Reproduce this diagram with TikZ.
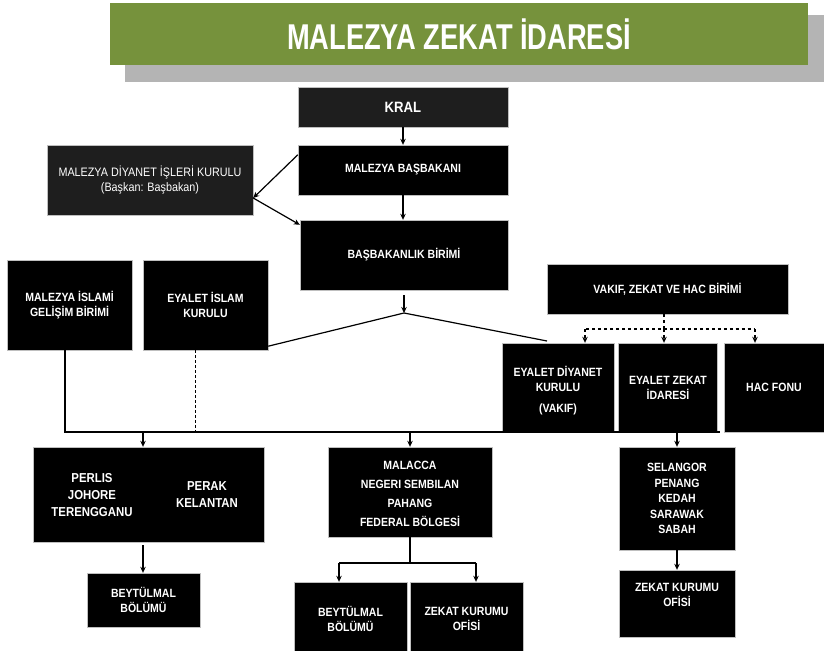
\documentclass[tikz,border=0pt]{standalone}
\usepackage{fontspec}
\setmainfont{Liberation Sans}[FakeStretch=0.88]
\newfontfamily\titlefont{Liberation Sans}[FakeStretch=0.76]
\usetikzlibrary{arrows.meta,calc}
\definecolor{titlegreen}{HTML}{76923C}
\definecolor{shadowgray}{HTML}{B4B4B4}
\definecolor{darkbox}{HTML}{1E1E1E}
\begin{document}
\begin{tikzpicture}[x=1bp,y=-1bp,
  box/.style={fill=black, text=white, font=\bfseries\fontsize{12}{15}\selectfont, align=center, inner sep=0pt, draw=gray!50, line width=0.4bp},
  sz/.style 2 args={minimum width=#1bp, minimum height=#2bp},
  arr/.style={-{Stealth[length=6bp,width=5.5bp]}, line width=1.2bp},
  ln/.style={line width=1.2bp}]
\useasboundingbox (0,0) rectangle (824,651);
% title
\fill[shadowgray] (125,15) rectangle (824,82);
\node[fill=titlegreen, sz={698}{62}, text=white, font=\titlefont\bfseries\fontsize{36}{40}\selectfont, inner sep=0pt] (title) at (459,34) {MALEZYA ZEKAT İDARESİ};
% nodes
\node[box, fill=darkbox, sz={210}{40}, font=\bfseries\fontsize{15}{17}\selectfont] (kral) at (403,107) {KRAL};
\node[box, sz={210}{50}] (pm) at (403,170) {MALEZYA BAŞBAKANI};
\node[box, sz={208}{70}] (pmu) at (404,255) {BAŞBAKANLIK BİRİMİ};
\node[box, fill=darkbox, sz={206}{70}, font=\fontsize{12.3}{15}\selectfont] (diy) at (150,180) {MALEZYA DİYANET İŞLERİ KURULU\\(Başkan: Başbakan)};
\node[box, sz={125}{90}] (mig) at (69.5,305) {MALEZYA İSLAMİ\\GELİŞİM BİRİMİ};
\node[box, sz={125}{90}] (eik) at (205.5,305) {EYALET İSLAM\\KURULU};
\node[box, sz={241}{50}] (vzh) at (667.5,289) {VAKIF, ZEKAT VE HAC BİRİMİ};
\node[box, sz={112}{89}] (edk) at (558,387.5) {};
\node[box, fill=none, draw=none] (edkt) at (558,391) {EYALET DİYANET\\KURULU\\[6bp](VAKIF)};
\node[box, sz={99}{89}] (ezi) at (668,387.5) {EYALET ZEKAT\\İDARESİ};
\node[box, sz={100}{89}] (hac) at (774,387.5) {HAC FONU};
\node[box, sz={231}{95}] (perlis) at (148.5,494.5) {};
\node[box, fill=none, draw=none, font=\bfseries\fontsize{13}{17}\selectfont] (perlisA) at (92,495) {PERLIS\\JOHORE\\TERENGGANU};
\node[box, fill=none, draw=none, font=\bfseries\fontsize{13}{17}\selectfont] (perlisB) at (207,495) {PERAK\\KELANTAN};
\node[box, sz={113}{54}] (bl) at (143.5,600) {BEYTÜLMAL\\BÖLÜMÜ};
\node[box, sz={164}{90}] (mal) at (410,492) {};
\node[box, fill=none, draw=none, font=\bfseries\fontsize{12}{19}\selectfont] (malt) at (410,494) {MALACCA\\NEGERI SEMBILAN\\PAHANG\\FEDERAL BÖLGESİ};
\node[box, sz={113}{69}] (bm) at (350.5,616.5) {};
\node[box, fill=none, draw=none] (bmt) at (350.5,619) {BEYTÜLMAL\\BÖLÜMÜ};
\node[box, sz={113}{69}] (zm) at (466.5,616.5) {};
\node[box, fill=none, draw=none] (zmt) at (466.5,619) {ZEKAT KURUMU\\OFİSİ};
\node[box, sz={116}{103}, font=\bfseries\fontsize{12}{15.5}\selectfont] (sel) at (677,498.5) {SELANGOR\\PENANG\\KEDAH\\SARAWAK\\SABAH};
\node[box, sz={116}{67}] (zr) at (677,603.5) {};
\node[box, fill=none, draw=none] (zrt) at (677,595) {ZEKAT KURUMU\\OFİSİ};
% coordinates
\coordinate (split) at (404,313);
\coordinate (edkT) at (547,341);
\coordinate (b1) at (65,432);
\coordinate (b2) at (195,432);
\coordinate (b3) at (143,432);
\coordinate (b4) at (410,432);
\coordinate (b5) at (677,432);
\coordinate (bend) at (720,432);
\coordinate (mj) at (410,563);
\coordinate (m1) at (339,563);
\coordinate (m2) at (476,563);
\coordinate (vj) at (664,329);
\coordinate (v1) at (585,329);
\coordinate (v3) at (755,329);
% connectors
\draw[arr] (kral) -- (kral.south |- pm.north);
\draw[arr] (pm.south) -- (pm.south |- pmu.north);
\draw[arr] ([yshift=-10bp]pm.north west) -- ([yshift=-18bp]diy.east) coordinate (dj);
\draw[arr] (dj) -- ([yshift=-5bp]pmu.north west);
\draw[arr] ([yshift=-5bp]pmu.south) -- (split);
\draw[ln] ([yshift=4bp]eik.south east) -- (split) -- (edkT);
\draw[ln] (mig.south -| b1) -- (b1) -- (bend);
\draw[line width=0.9bp, densely dashed] (eik.south -| b2) -- (b2);
\draw[arr] (b3) -- (b3 |- perlis.north);
\draw[arr] (b4) -- (mal);
\draw[arr] (b5) -- (sel);
\draw[arr] ([yshift=-3bp]perlis.south -| b3) -- (b3 |- bl.north);
\draw[ln] (mal.south) -- (mj) -- (m1);
\draw[ln] (mj) -- (m2);
\draw[arr] (m1) -- (m1 |- bm.north);
\draw[arr] (m2) -- (m2 |- zm.north);
\draw[arr] (sel) -- (zr);
\draw[ln, dashed] (vzh.south -| vj) -- (vj) -- (v1);
\draw[ln, dashed] (vj) -- (v3);
\draw[arr, dashed] (v1) -- (v1 |- edk.north);
\draw[arr, dashed] (vj) -- (vj |- ezi.north);
\draw[arr, dashed] (v3) -- (v3 |- hac.north);
\end{tikzpicture}
\end{document}
